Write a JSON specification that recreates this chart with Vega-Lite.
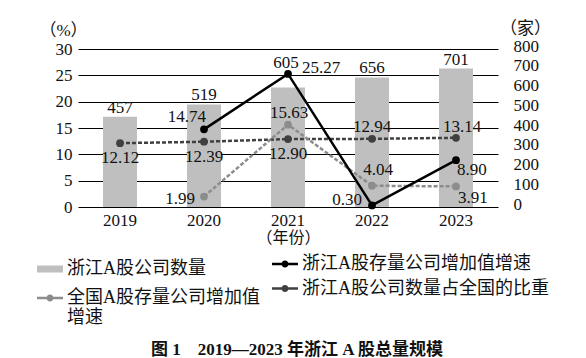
{
  "$schema": "https://vega.github.io/schema/vega-lite/v6.json",
  "width": 420,
  "height": 158,
  "autosize": {"type": "none"},
  "padding": {"left": 78, "top": 49, "right": 88, "bottom": 151},
  "background": "white",
  "config": {
    "view": {"stroke": null},
    "font": "'Liberation Serif', 'Noto Sans CJK SC', serif",
    "text": {"font": "'Liberation Serif', 'Noto Sans CJK SC', serif", "fontSize": 17, "color": "#111"}
  },
  "title": {
    "text": "图 1　2019—2023 年浙江 A 股总量规模",
    "orient": "bottom",
    "anchor": "middle",
    "font": "'Liberation Serif', 'Noto Sans CJK SC', serif",
    "fontWeight": "bold",
    "fontSize": 17,
    "color": "#111",
    "offset": 26,
    "dy": -11,
    "dx": 9
  },
  "data": {
    "values": [
      {"year": "2019", "series": "浙江A股公司数量", "value": 457},
      {"year": "2020", "series": "浙江A股公司数量", "value": 519},
      {"year": "2021", "series": "浙江A股公司数量", "value": 605},
      {"year": "2022", "series": "浙江A股公司数量", "value": 656},
      {"year": "2023", "series": "浙江A股公司数量", "value": 701},
      {"year": "2020", "series": "浙江A股存量公司增加值增速", "value": 14.74},
      {"year": "2021", "series": "浙江A股存量公司增加值增速", "value": 25.27},
      {"year": "2022", "series": "浙江A股存量公司增加值增速", "value": 0.30},
      {"year": "2023", "series": "浙江A股存量公司增加值增速", "value": 8.90},
      {"year": "2020", "series": "全国A股存量公司增加值增速", "value": 1.99},
      {"year": "2021", "series": "全国A股存量公司增加值增速", "value": 15.63},
      {"year": "2022", "series": "全国A股存量公司增加值增速", "value": 4.04},
      {"year": "2023", "series": "全国A股存量公司增加值增速", "value": 3.91},
      {"year": "2019", "series": "浙江A股公司数量占全国的比重", "value": 12.12},
      {"year": "2020", "series": "浙江A股公司数量占全国的比重", "value": 12.39},
      {"year": "2021", "series": "浙江A股公司数量占全国的比重", "value": 12.90},
      {"year": "2022", "series": "浙江A股公司数量占全国的比重", "value": 12.94},
      {"year": "2023", "series": "浙江A股公司数量占全国的比重", "value": 13.14}
    ]
  },
  "encoding": {
    "x": {
      "field": "year",
      "type": "nominal",
      "scale": {"paddingInner": 0, "paddingOuter": 0},
      "axis": {
        "title": "（年份）",
        "titleFont": "'Liberation Serif', 'Noto Sans CJK SC', serif",
        "titleFontSize": 16,
        "titleFontWeight": "normal",
        "titleColor": "#111",
        "titlePadding": 1,
        "labelAngle": 0,
        "labelFont": "'Liberation Serif', 'Noto Sans CJK SC', serif",
        "labelFontSize": 17,
        "labelColor": "#111",
        "labelPadding": 5,
        "ticks": false,
        "domain": false,
        "grid": false
      }
    }
  },
  "layer": [
    {
      "transform": [{"filter": "datum.series === '浙江A股公司数量'"}],
      "encoding": {
        "y": {
          "field": "value",
          "type": "quantitative",
          "scale": {"domain": [0, 800], "nice": false},
          "axis": {
            "orient": "right",
            "values": [0, 100, 200, 300, 400, 500, 600, 700, 800],
            "grid": false,
            "domain": false,
            "ticks": false,
            "labelFont": "'Liberation Serif', 'Noto Sans CJK SC', serif",
            "labelFontSize": 17,
            "labelColor": "#111",
            "labelPadding": 15,
            "labelOffset": -3,
            "title": "（家）",
            "titleAngle": 0,
            "titleFont": "'Liberation Serif', 'Noto Sans CJK SC', serif",
            "titleFontSize": 17,
            "titleFontWeight": "normal",
            "titleColor": "#111",
            "titleAlign": "center",
            "titleBaseline": "middle",
            "titleX": 27,
            "titleY": -21
          }
        }
      },
      "layer": [
        {"mark": {"type": "bar", "size": 34, "color": "#bfbfbf"}},
        {
          "transform": [{"filter": "datum.year !== '2021'"}],
          "mark": {"type": "text", "dy": -9, "baseline": "middle"},
          "encoding": {"text": {"field": "value", "type": "quantitative", "format": "d"}}
        },
        {
          "transform": [{"filter": "datum.year === '2021'"}],
          "mark": {"type": "text", "dy": -25, "dx": -2, "baseline": "middle"},
          "encoding": {"text": {"field": "value", "type": "quantitative", "format": "d"}}
        }
      ]
    },
    {
      "transform": [{"filter": "datum.series !== '浙江A股公司数量'"}],
      "encoding": {
        "y": {
          "field": "value",
          "type": "quantitative",
          "scale": {"domain": [0, 30], "nice": false},
          "axis": {
            "orient": "left",
            "values": [0, 5, 10, 15, 20, 25, 30],
            "grid": true,
            "gridColor": "#000",
            "gridWidth": 1,
            "gridOpacity": 1,
            "domain": false,
            "ticks": false,
            "labelFont": "'Liberation Serif', 'Noto Sans CJK SC', serif",
            "labelFontSize": 17,
            "labelColor": "#111",
            "labelPadding": 6,
            "title": "（%）",
            "titleAngle": 0,
            "titleFont": "'Liberation Serif', 'Noto Sans CJK SC', serif",
            "titleFontSize": 17,
            "titleFontWeight": "normal",
            "titleColor": "#111",
            "titleAlign": "center",
            "titleBaseline": "middle",
            "titleX": -15,
            "titleY": -19
          }
        }
      },
      "layer": [
        {
          "transform": [{"filter": "datum.series === '浙江A股公司数量占全国的比重'"}],
          "mark": {"type": "line", "color": "#404040", "strokeWidth": 2.5, "strokeDash": [4, 2]}
        },
        {
          "transform": [{"filter": "datum.series === '全国A股存量公司增加值增速'"}],
          "mark": {"type": "line", "color": "#8c8c8c", "strokeWidth": 2.5, "strokeDash": [4, 2]}
        },
        {
          "transform": [{"filter": "datum.series === '浙江A股存量公司增加值增速'"}],
          "mark": {"type": "line", "color": "#000000", "strokeWidth": 2.5}
        },
        {
          "mark": {"type": "point", "filled": true, "size": 60, "opacity": 1, "strokeWidth": 0},
          "encoding": {
            "color": {
              "field": "series",
              "type": "nominal",
              "scale": {
                "domain": ["浙江A股公司数量", "浙江A股存量公司增加值增速", "全国A股存量公司增加值增速", "浙江A股公司数量占全国的比重"],
                "range": ["#bfbfbf", "#000000", "#8c8c8c", "#404040"]
              },
              "legend": {
                "title": null,
                "orient": "none",
                "legendX": -41,
                "legendY": 207,
                "direction": "horizontal",
                "columns": 2,
                "columnPadding": 12,
                "rowPadding": 1,
                "symbolSize": 676,
                "symbolType": "circle",
                "symbolStrokeWidth": 0,
                "symbolOpacity": 1,
                "labelFont": "'Liberation Serif', 'Noto Sans CJK SC', serif",
                "labelFontSize": 18,
                "labelColor": "#111",
                "labelOffset": 4,
                "labelLimit": 400,
                "labelExpr": "datum.label === '全国A股存量公司增加值增速' ? ['全国A股存量公司增加值', '增速'] : datum.label",
                "encode": {
                  "symbols": {
                    "update": {
                      "shape": {"signal": "datum.value === '浙江A股公司数量' ? 'M-1,-0.27H1V0.27H-1Z' : (datum.value === '全国A股存量公司增加值增速' ? 'M-1,-0.09H1V0.09H-1Z M-0.27,0A0.27,0.27 0 1,1 0.27,0A0.27,0.27 0 1,1 -0.27,0Z' : 'M-1,-0.86H1V-0.68H-1Z M-0.27,-0.77A0.27,0.27 0 1,1 0.27,-0.77A0.27,0.27 0 1,1 -0.27,-0.77Z')"}
                    }
                  },
                  "labels": {
                    "update": {
                      "dy": {"signal": "(datum.value === '浙江A股存量公司增加值增速' || datum.value === '浙江A股公司数量占全国的比重') ? -10 : 0"}
                    }
                  }
                }
              }
            }
          }
        },
        {
          "transform": [{"filter": "datum.series === '浙江A股存量公司增加值增速' && datum.year === '2020'"}],
          "mark": {"type": "text", "align": "right", "dx": 2, "dy": -12},
          "encoding": {"text": {"field": "value", "type": "quantitative", "format": ".2f"}}
        },
        {
          "transform": [{"filter": "datum.series === '浙江A股存量公司增加值增速' && datum.year === '2021'"}],
          "mark": {"type": "text", "align": "left", "dx": 14, "dy": -6},
          "encoding": {"text": {"field": "value", "type": "quantitative", "format": ".2f"}}
        },
        {
          "transform": [{"filter": "datum.series === '浙江A股存量公司增加值增速' && datum.year === '2022'"}],
          "mark": {"type": "text", "align": "right", "dx": -10, "dy": -5},
          "encoding": {"text": {"field": "value", "type": "quantitative", "format": ".2f"}}
        },
        {
          "transform": [{"filter": "datum.series === '浙江A股存量公司增加值增速' && datum.year === '2023'"}],
          "mark": {"type": "text", "align": "left", "dx": 1, "dy": 10},
          "encoding": {"text": {"field": "value", "type": "quantitative", "format": ".2f"}}
        },
        {
          "transform": [{"filter": "datum.series === '全国A股存量公司增加值增速' && datum.year === '2020'"}],
          "mark": {"type": "text", "align": "right", "dx": -9, "dy": 2},
          "encoding": {"text": {"field": "value", "type": "quantitative", "format": ".2f"}}
        },
        {
          "transform": [{"filter": "datum.series === '全国A股存量公司增加值增速' && datum.year === '2021'"}],
          "mark": {"type": "text", "align": "center", "dx": 1, "dy": -12},
          "encoding": {"text": {"field": "value", "type": "quantitative", "format": ".2f"}}
        },
        {
          "transform": [{"filter": "datum.series === '全国A股存量公司增加值增速' && datum.year === '2022'"}],
          "mark": {"type": "text", "align": "center", "dx": 6, "dy": -16},
          "encoding": {"text": {"field": "value", "type": "quantitative", "format": ".2f"}}
        },
        {
          "transform": [{"filter": "datum.series === '全国A股存量公司增加值增速' && datum.year === '2023'"}],
          "mark": {"type": "text", "align": "left", "dx": 2, "dy": 12},
          "encoding": {"text": {"field": "value", "type": "quantitative", "format": ".2f"}}
        },
        {
          "transform": [{"filter": "datum.series === '浙江A股公司数量占全国的比重' && (datum.year === '2019' || datum.year === '2020' || datum.year === '2021')"}],
          "mark": {"type": "text", "align": "center", "dx": 0, "dy": 15},
          "encoding": {"text": {"field": "value", "type": "quantitative", "format": ".2f"}}
        },
        {
          "transform": [{"filter": "datum.series === '浙江A股公司数量占全国的比重' && datum.year === '2022'"}],
          "mark": {"type": "text", "align": "center", "dx": 0, "dy": -12},
          "encoding": {"text": {"field": "value", "type": "quantitative", "format": ".2f"}}
        },
        {
          "transform": [{"filter": "datum.series === '浙江A股公司数量占全国的比重' && datum.year === '2023'"}],
          "mark": {"type": "text", "align": "center", "dx": 6, "dy": -11},
          "encoding": {"text": {"field": "value", "type": "quantitative", "format": ".2f"}}
        }
      ]
    }
  ],
  "resolve": {"scale": {"y": "independent"}}
}
